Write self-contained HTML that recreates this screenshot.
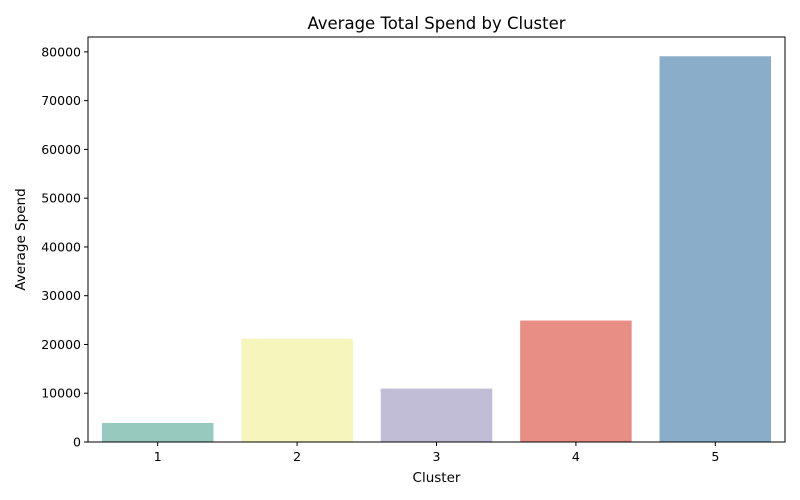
<!DOCTYPE html>
<html><head><meta charset="utf-8"><style>
body{margin:0;background:#fff;}
svg{display:block;font-family:"DejaVu Sans","Liberation Sans",sans-serif;}
</style></head><body>
<svg id="chart" width="800" height="500">
<text x="436.5" y="29" text-anchor="middle" font-size="16.5">Average Total Spend by Cluster</text>
<text x="436.5" y="482" text-anchor="middle" font-size="13.5">Cluster</text>
<text transform="translate(25,239.5) rotate(-90)" text-anchor="middle" font-size="13.5">Average Spend</text>
<g id="bars"></g><g id="yticks"></g><g id="xticks"></g>
<rect x="88" y="37" width="697" height="405" fill="none" stroke="#000" stroke-width="1"/>
</svg>
<script>
const categories=["1","2","3","4","5"];
const values=[3900,21200,10950,24900,79100];
const colors=["#97c9bf","#f6f5bc","#c1bdd6","#e98e84","#8aaec9"];
const yTicks=[0,10000,20000,30000,40000,50000,60000,70000,80000];
const L=88,R=785,T=37,B=442,yMax=83050;
const ns="http://www.w3.org/2000/svg";
const band=(R-L)/categories.length;
const xc=i=>L+band*(i+0.5);
const y=v=>B-(v/yMax)*(B-T);
const bars=document.getElementById('bars'),yt=document.getElementById('yticks'),xt=document.getElementById('xticks');
function mk(t,a){const e=document.createElementNS(ns,t);for(const k in a)e.setAttribute(k,a[k]);return e;}
values.forEach((v,i)=>{
 const r=mk('rect',{x:xc(i)-band*0.4,y:y(v),width:band*0.8,height:B-y(v),fill:colors[i]});
 
 
 bars.appendChild(r);
});
yTicks.forEach(v=>{
 const l=mk('line',{x1:L-4,x2:L,y1:y(v),y2:y(v),stroke:'#000'});
 
 
 yt.appendChild(l);
 const t=mk('text',{x:L-7,y:y(v)+4.5,'text-anchor':'end','font-size':'12.5'});
 t.textContent=v;
 
 
 yt.appendChild(t);
});
categories.forEach((c,i)=>{
 const l=mk('line',{x1:xc(i),x2:xc(i),y1:B,y2:B+4,stroke:'#000'});
 
 
 xt.appendChild(l);
 const t=mk('text',{x:xc(i),y:B+19,'text-anchor':'middle','font-size':'12.5'});
 t.textContent=c;
 
 
 xt.appendChild(t);
});
</script>
</body></html>
